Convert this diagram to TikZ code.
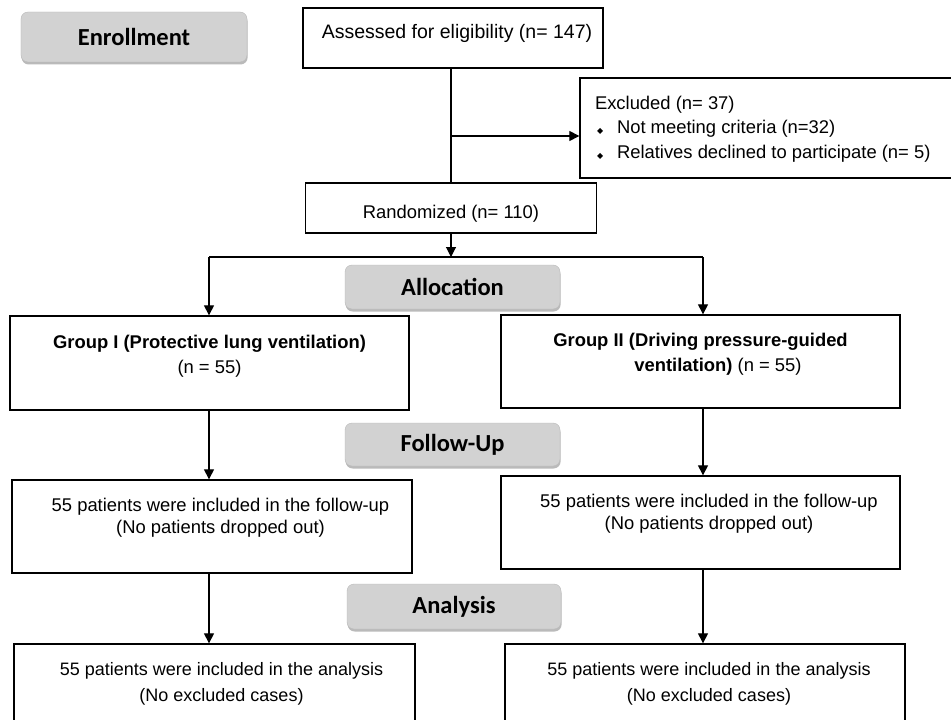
\documentclass[tikz,border=0pt]{standalone}
\usepackage{fontspec}
\setmainfont{Liberation Sans}
\newfontfamily\stagefont{Carlito}
\newfontfamily\symfont{DejaVu Sans}
\usetikzlibrary{positioning,shadows,arrows.meta}

\newcommand{\diabullet}{{\symfont\fontsize{8bp}{8bp}\selectfont ◆}}

\tikzset{
  box/.style={draw, line width=1.3bp, inner sep=0pt, fill=white},
  stage/.style={rounded corners=7bp, fill=gray!35, draw=gray!55, line width=0.4bp,
    inner sep=0pt, minimum width=215bp, minimum height=44bp,
    font=\stagefont\bfseries\fontsize{24.5bp}{24.5bp}\selectfont,
    drop shadow={shadow xshift=0.6bp, shadow yshift=-2.5bp, opacity=0.45, fill=gray!80!black}},
  arr/.style={line width=1.1bp, -{Triangle[length=10bp,width=10bp]}},
  ln/.style={line width=1.1bp}
}

\begin{document}
\begin{tikzpicture}[x=1bp, y=-1bp, font=\fontsize{18.4bp}{24.5bp}\selectfont]
    \useasboundingbox (0,0) rectangle (951,720);

    % stage labels
    \node[stage, minimum width=226bp, minimum height=50bp] (enrol) at (134,37) {Enrollment};
    \node[stage] (alloc) at (452.5,287) {Allocation};
    \node[stage, minimum height=43bp] (follow) at (452.5,444.5) {Follow-Up};
    \node[stage, minimum width=214bp, minimum height=45bp] (analys) at (454,606.5) {Analysis};

    % enrollment
    \node[box] (assess) at (453,38) {
      \begin{minipage}[c][60bp][t]{300bp}
        \centering\fontsize{19.5bp}{24bp}\selectfont
        \hspace*{8bp}\rule{0pt}{31bp}Assessed for eligibility (n= 147)
      \end{minipage}
    };
    \node[box] (excl) at (775,128) {
      \begin{minipage}[c][100bp][t]{390bp}
        \raggedright\leftskip=15bp
        \rule{0pt}{31.5bp}Excluded (n= 37)\\
        \hspace*{2bp}\makebox[20bp][l]{\diabullet}Not meeting criteria (n=32)\\
        \hspace*{2bp}\makebox[20bp][l]{\diabullet}Relatives declined to participate (n= 5)
      \end{minipage}
    };
    \node[box] (rand) at (451,208) {
      \begin{minipage}[c][50bp][t]{291bp}
        \centering\rule{0pt}{35bp}Randomized (n= 110)
      \end{minipage}
    };

    % allocation
    \node[box] (grpI) at (209.5,363) {
      \begin{minipage}[c][94bp][t]{399bp}
        \centering\rule{0pt}{32.5bp}\textbf{Group I (Protective lung ventilation)}\\
        (n = 55)
      \end{minipage}
    };
    \node[box] (grpII) at (700.5,361.5) {
      \begin{minipage}[c][93bp][t]{399bp}
        \centering\rule{0pt}{31.5bp}\textbf{Group II (Driving pressure-guided}\\
        \hspace*{35bp}\textbf{ventilation)} (n = 55)
      \end{minipage}
    };

    % follow-up
    \node[box] (fupI) at (212,526.5) {
      \begin{minipage}[c][93bp][t]{400bp}
        \centering\fontsize{18.4bp}{22bp}\selectfont
        \hspace*{17bp}\rule{0pt}{31.5bp}55 patients were included in the follow-up\\
        \hspace*{17bp}(No patients dropped out)
      \end{minipage}
    };
    \node[box] (fupII) at (700.5,522.5) {
      \begin{minipage}[c][93bp][t]{399bp}
        \centering\fontsize{18.4bp}{21.5bp}\selectfont
        \hspace*{17bp}\rule{0pt}{31.5bp}55 patients were included in the follow-up\\
        \hspace*{17bp}(No patients dropped out)
      \end{minipage}
    };

    % analysis
    \node[box] (anaI) at (214.5,702) {
      \begin{minipage}[c][116bp][t]{401bp}
        \centering\fontsize{18bp}{26bp}\selectfont
        \hspace*{14bp}\rule{0pt}{31.5bp}55 patients were included in the analysis\\
        \hspace*{14bp}(No excluded cases)
      \end{minipage}
    };
    \node[box] (anaII) at (705,702) {
      \begin{minipage}[c][116bp][t]{400bp}
        \centering\fontsize{18bp}{26bp}\selectfont
        \hspace*{8bp}\rule{0pt}{31.5bp}55 patients were included in the analysis\\
        \hspace*{8bp}(No excluded cases)
      \end{minipage}
    };

    % connectors
    \coordinate (exbr) at (451,136);
    \coordinate (colL) at (209,257);
    \coordinate (colR) at (703,257);
    \draw[ln] (assess.south -| rand.north) -- (rand.north);
    \draw[arr] (exbr) -- (exbr -| excl.west);
    \draw[arr] (rand.south) -- (rand.south |- colL);
    \draw[ln] (colL) -- (colR);
    \draw[arr] (colL) -- (colL |- grpI.north);
    \draw[arr] (colR) -- (colR |- grpII.north);
    \draw[arr] (grpI.south -| colL) -- (fupI.north -| colL);
    \draw[arr] (grpII.south -| colR) -- (fupII.north -| colR);
    \draw[arr] (fupI.south -| colL) -- (anaI.north -| colL);
    \draw[arr] (fupII.south -| colR) -- (anaII.north -| colR);
  \end{tikzpicture}
\end{document}
